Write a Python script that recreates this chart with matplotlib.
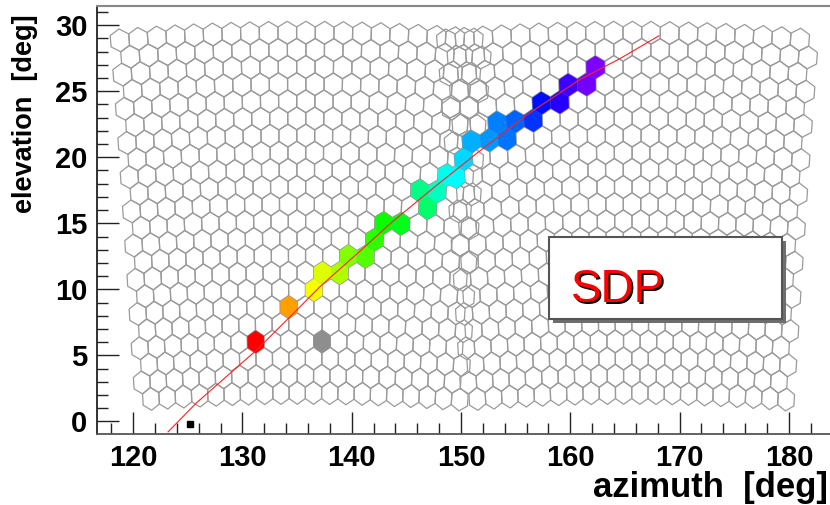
import numpy as np
import matplotlib
matplotlib.use("Agg")
import matplotlib.pyplot as plt
from matplotlib.collections import PolyCollection
from matplotlib.patches import Rectangle
from matplotlib.colors import Normalize

plt.rcParams['font.family'] = ['Liberation Sans', 'DejaVu Sans']

# camera layout (two FD cameras, 22 rows x 20 columns, ~1.5 deg pixels)
cam_az0 = [135.39, 165.25]
cam_el0 = 15.8
n_rows, n_cols = 22, 20
pitch_x = 1.53
pitch_y = 1.5

# triggered pixels: azimuth, elevation, pulse time (arb. units)
pix_az = [131.2, 134.2, 136.5, 137.3, 138.8, 139.5, 141.0, 142.0, 142.7, 144.3,
          146.6, 146.0, 147.6, 148.7, 149.9, 150.5, 151.1, 152.7, 153.6, 154.3,
          154.9, 156.6, 157.4, 159.1, 159.8, 161.5, 162.3]
pix_el = [6.1, 8.9, 10.1, 11.3, 11.2, 12.5, 12.4, 13.7, 15.1, 15.0,
          16.1, 17.5, 17.3, 18.8, 18.5, 19.8, 21.2, 21.3, 22.7, 21.3,
          22.8, 22.7, 24.1, 24.1, 25.6, 25.6, 26.9]
pix_time = [0, 13, 21, 23, 27, 30, 34, 37, 40, 43,
            49, 51, 56, 59, 61, 64, 67, 69, 71, 72,
            73, 77, 80, 84, 86, 90, 91]

# noise pixel (not used in the fit)
noise_az = [137.3]
noise_el = [6.1]

# fitted shower-detector plane
sdp_az = [123.2, 125.8, 131.3, 134.7, 137.1, 140.5, 143.7, 147.8, 151.6,
          156.0, 160.9, 164.6, 168.1]
sdp_el = [-0.8, 1.4, 5.4, 8.2, 10.2, 12.7, 15.1, 17.9, 20.4,
          23.2, 25.9, 27.5, 29.2]

# eye position marker
eye_az = [125.2]
eye_el = [-0.2]


def cam_to_azel(xc, yc, az0, el0):
    x, y, e = np.radians(xc), np.radians(yc), np.radians(el0)
    X = np.cos(y) * np.cos(x)
    Y = np.cos(y) * np.sin(x)
    Z = np.sin(y)
    Xr = np.cos(e) * X - np.sin(e) * Z
    Zr = np.sin(e) * X + np.cos(e) * Z
    return az0 + np.degrees(np.arctan2(Y, Xr)), np.degrees(np.arcsin(Zr))


ang = np.radians(90 + 60 * np.arange(6))
vx = pitch_x / np.sqrt(3) * np.cos(ang)
vy = pitch_y / np.sqrt(3) * np.sin(ang)
hexes, centers = [], []
for az0 in cam_az0:
    for r in range(n_rows):
        yc = (r - (n_rows - 1) / 2) * pitch_y * np.sqrt(3) / 2
        shift = pitch_x / 4 if r % 2 == 0 else -pitch_x / 4
        for c in range(n_cols):
            xc = (c - (n_cols - 1) / 2) * pitch_x + shift
            a, e = cam_to_azel(xc + vx, yc + vy, az0, cam_el0)
            hexes.append(np.column_stack([a, e]))
            centers.append(cam_to_azel(xc, yc, az0, cam_el0))
centers = np.array(centers)


def nearest_hex(a, e):
    d = (centers[:, 0] - a) ** 2 + (centers[:, 1] - e) ** 2
    return hexes[int(np.argmin(d))]


fig = plt.figure(figsize=(8.3, 5.05), dpi=100)
ax = fig.add_axes([97 / 830, 71 / 505, 733 / 830, 428 / 505])

ax.add_collection(PolyCollection(hexes, facecolors='none', edgecolors='#9a9a9a',
                                 linewidths=0.9, zorder=1))

norm = Normalize(vmin=min(pix_time), vmax=min(pix_time) + (max(pix_time) - min(pix_time)) / 0.76)
cmap = plt.get_cmap('hsv')
hit = [nearest_hex(a, e) for a, e in zip(pix_az, pix_el)]
ax.add_collection(PolyCollection(hit, facecolors=[cmap(norm(t)) for t in pix_time],
                                 edgecolors='none', zorder=2))
ax.add_collection(PolyCollection([nearest_hex(a, e) for a, e in zip(noise_az, noise_el)],
                                 facecolors='#8e8e8e', edgecolors='none', zorder=2))

ax.plot(sdp_az, sdp_el, color='#ff2020', lw=0.8, zorder=3)
ax.plot(eye_az, eye_el, 's', color='black', ms=4, zorder=3)

ax.set_xlim(116.7, 183.76)
ax.set_ylim(-0.96, 31.46)
ax.set_xticks(np.arange(120, 181, 10))
ax.set_xticks(np.arange(118, 184, 2), minor=True)
ax.set_yticks(np.arange(0, 31, 5))
ax.set_yticks(np.arange(0, 32, 1), minor=True)
ax.tick_params(which='both', direction='in', top=False, right=False,
               width=1.0, color='#222222')
ax.tick_params(which='major', length=16)
ax.tick_params(which='minor', length=8)
ax.tick_params(axis='x', pad=7)
ax.tick_params(axis='y', pad=7)
for lab in ax.get_xticklabels() + ax.get_yticklabels():
    lab.set_fontsize(21)
    lab.set_fontweight('bold')

ax.spines['right'].set_visible(False)
ax.spines['top'].set_color('#888888')
ax.spines['top'].set_linewidth(1.5)
ax.spines['left'].set_color('#222222')
ax.spines['left'].set_linewidth(1.3)
ax.spines['bottom'].set_color('#555555')
ax.spines['bottom'].set_linewidth(1.3)

fig.text(828 / 830, 1 - 487 / 505, 'azimuth  [deg]', ha='right', va='center',
         fontsize=25, fontweight='bold')
fig.text(25 / 830, 1 - 14 / 505, 'elevation  [deg]', rotation=90, ha='center', va='top',
         fontsize=19.5, fontweight='bold')

# SDP label box with shadow
fig.add_artist(Rectangle((553 / 830, 1 - 323 / 505), 233 / 830, 82 / 505,
                         transform=fig.transFigure, facecolor='#6e6e6e', edgecolor='none'))
fig.add_artist(Rectangle((549 / 830, 1 - 319 / 505), 233 / 830, 82 / 505,
                         transform=fig.transFigure, facecolor='white', edgecolor='#555555', lw=1.5))
fig.text(573 / 830, 1 - 304 / 505, 'SDP', color='black', fontsize=33, ha='left', va='baseline')
fig.text(571 / 830, 1 - 302 / 505, 'SDP', color='red', fontsize=33, ha='left', va='baseline')

fig.savefig('out.png', dpi=100)
